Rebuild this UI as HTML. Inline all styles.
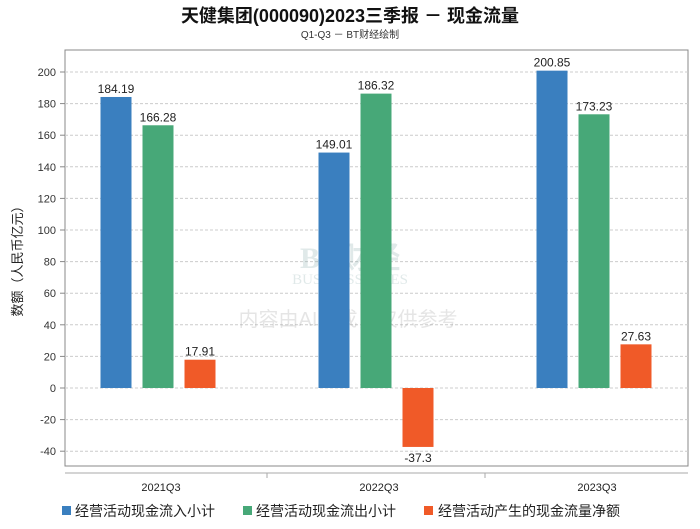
<!DOCTYPE html>
<html><head><meta charset="utf-8"><style>
body{margin:0;background:#fff;font-family:"Liberation Sans","Noto Sans CJK SC",sans-serif;}
</style></head><body>
<svg width="700" height="524" xmlns="http://www.w3.org/2000/svg" font-family="Liberation Sans, Noto Sans CJK SC, sans-serif">
<text x="350" y="22" text-anchor="middle" font-size="18" font-weight="bold" fill="#111">天健集团(000090)2023三季报 － 现金流量</text>
<text x="350" y="38" text-anchor="middle" font-size="10" fill="#333">Q1-Q3 － BT财经绘制</text>
<rect x="65" y="50" width="623" height="416" fill="none" stroke="#888"/>
<g id="grid"></g>
<g opacity="0.25">
<text x="350" y="268" text-anchor="middle" font-size="30" font-weight="bold" fill="#8aa" font-family="Liberation Serif, serif">BT财经</text>
<text x="350" y="284" text-anchor="middle" font-size="15" fill="#8aa" font-family="Liberation Serif, serif">BUSINESSTIMES</text>
<text x="348" y="326" text-anchor="middle" font-size="20" fill="#999">内容由AI生成，仅供参考</text>
</g>
<g id="bars"></g>
<line x1="65" y1="473" x2="688" y2="473" stroke="#aaa"/>
<text transform="translate(22,258) rotate(-90)" text-anchor="middle" font-size="13" fill="#222">数额（人民币亿元）</text>
<g font-size="14" fill="#222">
<rect x="62" y="506" width="9" height="9" fill="#3a7fbf"/>
<text x="75" y="516">经营活动现金流入小计</text>
<rect x="243" y="506" width="9" height="9" fill="#47a878"/>
<text x="256" y="516">经营活动现金流出小计</text>
<rect x="424" y="506" width="9" height="9" fill="#f05a28"/>
<text x="438" y="516">经营活动产生的现金流量净额</text>
</g>
</svg>
<script>
const categories=["2021Q3","2022Q3","2023Q3"];
const inflow=[184.19,149.01,200.85];
const outflow=[166.28,186.32,173.23];
const net=[17.91,-37.3,27.63];
const yTicks=[-40,-20,0,20,40,60,80,100,120,140,160,180,200];
const NS="http://www.w3.org/2000/svg";
const y=v=>388-v*1.58;
const xc=i=>158+i*218;
const grid=document.getElementById('grid');
function mk(tag,attrs,parent){const e=document.createElementNS(NS,tag);for(const k in attrs)e.setAttribute(k,attrs[k]);parent.appendChild(e);return e;}
yTicks.forEach(t=>{
 const l=mk('line',{x1:65,x2:688,y1:y(t),y2:y(t),stroke:'#ccc','stroke-dasharray':'3,2'},grid);
 
 
 const k=mk('line',{x1:60,x2:65,y1:y(t),y2:y(t),stroke:'#888'},grid);
 
 
 const tx=mk('text',{x:56,y:y(t)+4,'text-anchor':'end','font-size':11,fill:'#333'},grid);
 tx.textContent=t;
 
 
});
const bars=document.getElementById('bars');
const series=[[inflow,'#3a7fbf',-42,'inflow'],[outflow,'#47a878',0,'outflow'],[net,'#f05a28',42,'net']];
categories.forEach((c,i)=>{
 series.forEach(([arr,col,off,nm])=>{
  const v=arr[i];const x=xc(i)+off-15.5;
  const top=Math.min(y(v),y(0));const h=Math.abs(y(v)-y(0));
  const r=mk('rect',{x:x,y:top,width:31,height:h,fill:col},bars);
  
  
  const lt=mk('text',{x:xc(i)+off,y:v>=0?y(v)-4:y(v)+15,'text-anchor':'middle','font-size':12,fill:'#222'},bars);
  lt.textContent=v;
  
  
 });
 const xl=mk('text',{x:xc(i)+3,y:491,'text-anchor':'middle','font-size':11,fill:'#222'},bars);
 xl.textContent=c;
 
 
 if(i>0){
 const tk=mk('line',{x1:xc(i)-109,x2:xc(i)-109,y1:473,y2:478,stroke:'#aaa'},bars);
 
 
 }
});
</script>
</body></html>
